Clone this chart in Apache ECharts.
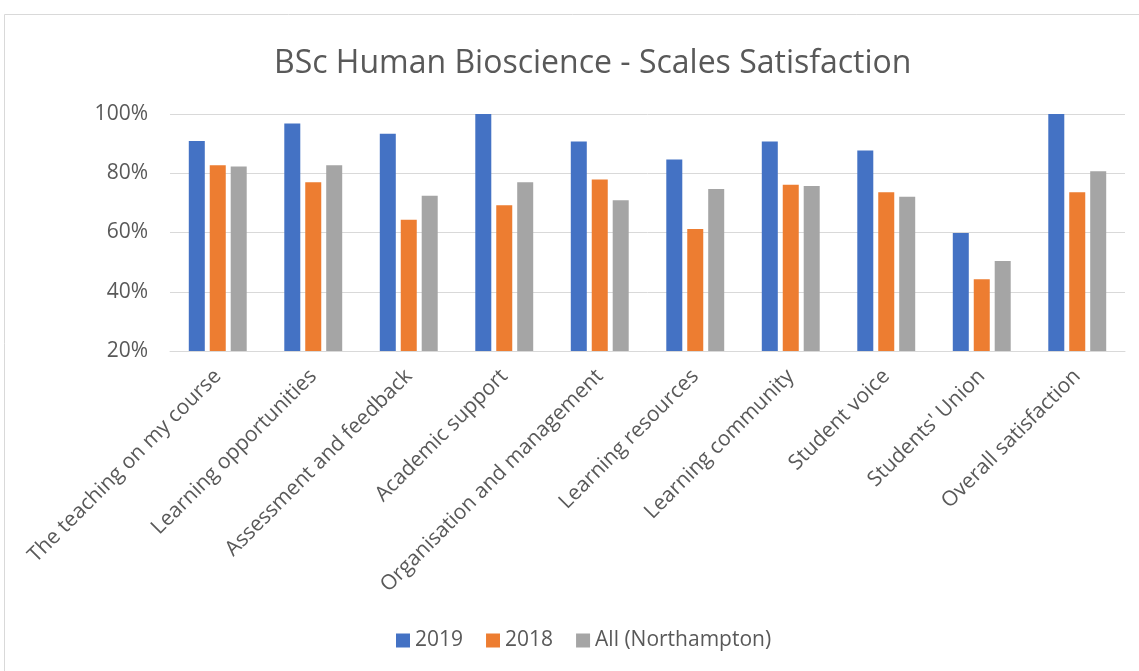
<!DOCTYPE html>
<html>
<head>
<meta charset="utf-8">
<script src="https://cdn.jsdelivr.net/npm/echarts@6/dist/echarts.min.js"></script>
<style>
  html, body { margin: 0; padding: 0; background: #fff; }
  #chart { width: 1139px; height: 671px; }
</style>
</head>
<body>
<div id="chart"></div>
<script>
  // categories and values (percent)
  const categories = [
    'The teaching on my course',
    'Learning opportunities',
    'Assessment and feedback',
    'Academic support',
    'Organisation and management',
    'Learning resources',
    'Learning community',
    'Student voice',
    "Students' Union",
    'Overall satisfaction'
  ]
  const values2019 = [90.9, 96.8, 93.3, 100, 90.7, 84.6, 90.7, 87.7, 59.8, 100]
  const values2018 = [82.7, 77.0, 64.3, 69.2, 77.9, 61.2, 76.1, 73.6, 44.2, 73.6]
  const valuesAll = [82.3, 82.7, 72.4, 77.0, 70.9, 74.7, 75.7, 72.1, 50.4, 80.7]
  const seriesNames = ['2019', '2018', 'All (Northampton)']
  const colors = ['#4472C4', '#ED7D31', '#A5A5A5']

  const font = '"Open Sans", "Noto Sans", sans-serif'
  const textColor = '#595959'
  const gridColor = '#d9d9d9'

  const chart = echarts.init(document.getElementById('chart'))

  const makeSeries = (name, data, i) => ({
    name: name,
    type: 'bar',
    data: data,
    barWidth: 16,
    barGap: '31%',
    itemStyle: { color: colors[i] },
    emphasis: { disabled: true }
  })

  chart.setOption({
    animation: false,
    color: colors,
    title: {
      text: 'BSc Human Bioscience - Scales Satisfaction',
      left: 269,
      top: 43,
      textStyle: { fontFamily: font, fontSize: 32, fontWeight: 'normal', color: textColor }
    },
    graphic: [{
      type: 'rect',
      shape: { x: 4.5, y: 14.5, width: 1200, height: 700 },
      style: { fill: 'none', stroke: gridColor, lineWidth: 1 },
      silent: true
    }],
    legend: {
      data: seriesNames,
      bottom: 15,
      left: 391,
      itemWidth: 14,
      itemHeight: 14,
      itemGap: 23,
      icon: 'rect',
      textStyle: { fontFamily: font, fontSize: 21, color: textColor }
    },
    grid: {
      left: 170,
      right: 14,
      top: 114,
      bottom: 320,
      containLabel: false
    },
    xAxis: {
      type: 'category',
      data: categories,
      axisTick: { show: false },
      axisLine: { show: true, lineStyle: { color: gridColor, width: 1 } },
      axisLabel: {
        rotate: 45,
        interval: 0,
        margin: 22,
        fontFamily: font,
        fontSize: 21,
        color: textColor
      }
    },
    yAxis: {
      type: 'value',
      min: 20,
      max: 100,
      interval: 20,
      axisLine: { show: false },
      axisTick: { show: false },
      splitLine: { lineStyle: { color: gridColor, width: 1 } },
      axisLabel: {
        formatter: '{value}%',
        margin: 22,
        fontFamily: font,
        fontSize: 21,
        color: textColor
      }
    },
    series: [
      makeSeries(seriesNames[0], values2019, 0),
      makeSeries(seriesNames[1], values2018, 1),
      makeSeries(seriesNames[2], valuesAll, 2)
    ]
  })
</script>
</body>
</html>
